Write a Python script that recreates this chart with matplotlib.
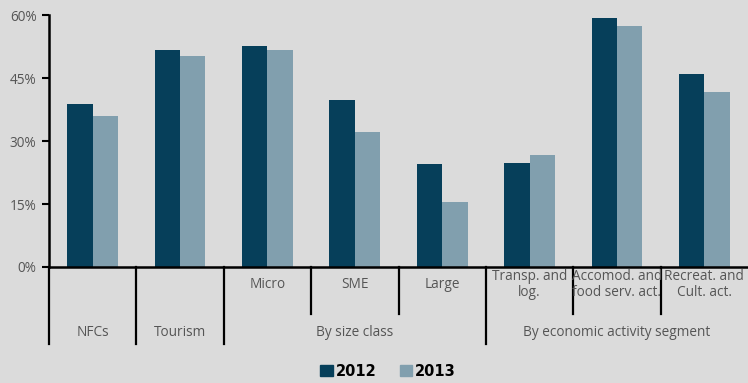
import numpy as np
import matplotlib.pyplot as plt
import matplotlib.transforms as mtransforms
from matplotlib.patches import Patch

# Share of companies, 2012 vs 2013
sub_labels = ['', '', 'Micro', 'SME', 'Large', 'Transp. and\nlog.',
              'Accomod. and\nfood serv. act.', 'Recreat. and\nCult. act.']
group_labels = ['NFCs', 'Tourism', 'By size class', 'By economic activity segment']
group_spans = [(0, 1), (1, 2), (2, 5), (5, 8)]
values_2012 = [38.8, 51.7, 52.6, 39.8, 24.5, 24.8, 59.3, 46.0]
values_2013 = [36.0, 50.2, 51.7, 32.1, 15.5, 26.7, 57.4, 41.7]

bg = '#dbdbdb'
c2012 = '#063f5a'
c2013 = '#819fae'
txt = '#555555'
plt.rcParams['font.family'] = ['Open Sans', 'DejaVu Sans']

fig = plt.figure(figsize=(7.48, 3.83), dpi=100, facecolor=bg)
ax = fig.add_axes([49 / 748, (383 - 267) / 383, 699 / 748, 252 / 383])
ax.set_facecolor(bg)

x = np.arange(len(values_2012)) + 0.5
w = 0.29
ax.bar(x - w / 2, values_2012, w, color=c2012)
ax.bar(x + w / 2, values_2013, w, color=c2013)

ax.set_xlim(0, len(x))
ax.set_ylim(0, 60)
ax.set_yticks([0, 15, 30, 45, 60])
ax.set_yticklabels([f'{v}%' for v in [0, 15, 30, 45, 60]], color=txt, fontsize=9.8)
ax.set_xticks([])
ax.tick_params(axis='y', length=5, width=1.5, color='black', pad=4)
for s in ['top', 'right']:
    ax.spines[s].set_visible(False)
ax.spines['left'].set_linewidth(1.8)
ax.spines['bottom'].set_linewidth(1.8)

# two-level category axis drawn below the plot
trans = mtransforms.blended_transform_factory(ax.transData, ax.transAxes)
short_y, long_y = -0.185, -0.305
group_edges = {s for span in group_spans for s in span}
for b in range(len(x)):
    y_end = long_y if b in group_edges else short_y
    ax.plot([b, b], [0, y_end], color='black', lw=1.6, transform=trans, clip_on=False)

for i, lab in enumerate(sub_labels):
    if lab:
        ax.text(x[i], -0.07, lab, transform=trans, ha='center', va='center',
                color=txt, fontsize=9.8, linespacing=1.1)
for lab, (a, b) in zip(group_labels, group_spans):
    ax.text((a + b) / 2, -0.26, lab, transform=trans, ha='center', va='center',
            color=txt, fontsize=9.8)

handles = [Patch(color=c2012, label='2012'), Patch(color=c2013, label='2013')]
leg = fig.legend(handles=handles, loc='center', bbox_to_anchor=(388 / 748, 1 - 371 / 383),
                 ncol=2, frameon=False, handlelength=0.85, handleheight=0.85,
                 handletextpad=0.2, columnspacing=1.6,
                 prop={'family': 'DejaVu Sans Condensed', 'weight': 'bold', 'size': 10.5})

fig.savefig('out.png', dpi=100, facecolor=bg)
